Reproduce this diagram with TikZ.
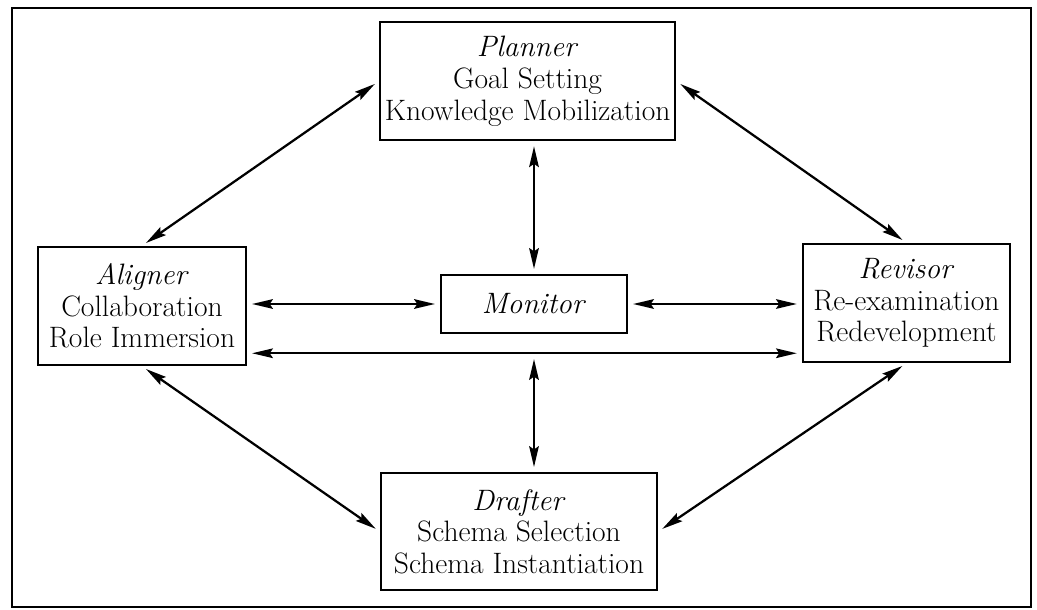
\documentclass[tikz,border=0pt]{standalone}
\usetikzlibrary{arrows.meta}

\begin{document}
\begin{tikzpicture}[
  frame/.style={draw=black, line width=1.8pt},
  box/.style={rectangle, draw=black, line width=1.8pt, fill=white, align=center,
              font=\fontsize{21}{22.5}\selectfont, inner sep=2pt, minimum height=2.95cm},
  link/.style={line width=1.6pt, shorten <=0.12cm, shorten >=0.12cm,
               {Stealth[length=0.52cm,width=0.24cm,inset=0.08cm]}-{Stealth[length=0.52cm,width=0.24cm,inset=0.08cm]}}
]
  \useasboundingbox (0,0) rectangle (25.925,-15.25);
  \draw[frame] (0.3,-0.2) rectangle (25.775,-15.175);

  %% ── Top and bottom: Planner · Drafter ─────────────────────────────────────
  \node[box, minimum width=7.375cm] (planner) at (13.19,-2.03)
    {\textit{Planner}\\ Goal Setting\\ Knowledge Mobilization};
  \node[box, minimum width=6.9cm, minimum height=2.925cm] (drafter) at (12.975,-13.29)
    {\textit{Drafter}\\ Schema Selection\\ Schema Instantiation};

  %% ── Middle row: Aligner · Monitor · Revisor ───────────────────────────────
  \node[box, minimum width=5.2cm] (aligner) at (3.55,-7.65)
    {\textit{Aligner}\\ Collaboration\\ Role Immersion};
  \node[box, minimum width=4.65cm, minimum height=1.45cm] (monitor) at (13.35,-7.6)
    {\textit{Monitor}};
  \node[box, minimum width=5.175cm] (revisor) at (22.66,-7.575)
    {\textit{Revisor}\\ Re-examination\\ Redevelopment};

  %% ── Links ─────────────────────────────────────────────────────────────────
  % Aligner <-> Planner
  \draw[link] (aligner.north) -- (planner.west);
  % Planner <-> Revisor
  \draw[link] (planner.east) -- (revisor.north);
  % Planner <-> Monitor
  \draw[link] (monitor.north |- planner.south) -- (monitor.north);
  % Aligner <-> Monitor
  \draw[link] (aligner.east |- monitor.west) -- (monitor.west);
  % Monitor <-> Revisor
  \draw[link] (monitor.east) -- (monitor.east -| revisor.west);
  % Aligner <-> Revisor  (long one, under Monitor)
  \draw[link] ([yshift=0.325cm]aligner.south east) -- ([yshift=0.325cm]aligner.south east -| revisor.west);
  % Monitor <-> Drafter
  \draw[link] ([yshift=-0.5cm]monitor.south) -- (monitor.south |- drafter.north);
  % Aligner <-> Drafter
  \draw[link] (aligner.south) -- (drafter.west);
  % Revisor <-> Drafter
  \draw[link] (revisor.south) -- (drafter.east);
\end{tikzpicture}
\end{document}
